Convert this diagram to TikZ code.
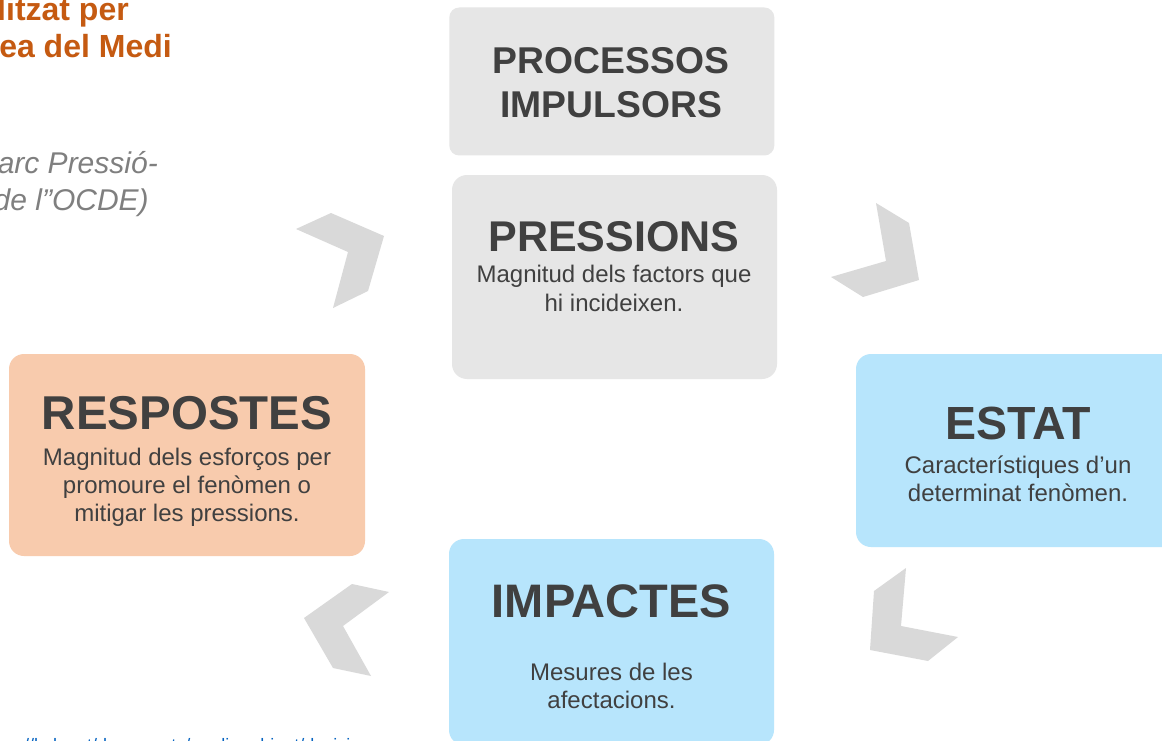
\documentclass[tikz,border=0pt]{standalone}
\usepackage{fontspec}
\setmainfont{Liberation Sans}
\definecolor{txt}{HTML}{404040}
\definecolor{boxgray}{HTML}{E6E6E6}
\definecolor{peach}{HTML}{F8CBAD}
\definecolor{lblue}{HTML}{B7E5FC}
\definecolor{chev}{HTML}{D9D9D9}
\definecolor{orng}{HTML}{C55A11}
\definecolor{itgray}{HTML}{7F7F7F}
\definecolor{linkblue}{HTML}{0563C1}
\tikzset{
  box/.style={rectangle, draw=none, rounded corners=15pt, inner sep=0pt},
  ttl/.style={text=txt, anchor=base, inner sep=0pt, font=\bfseries\fontsize{#1}{#1}\selectfont},
  sub/.style={text=txt, anchor=base, inner sep=0pt, font=\fontsize{24}{28}\selectfont},
  chevron/.style={fill=chev, draw=none},
}
\begin{document}
\begin{tikzpicture}[x=1pt,y=-1pt]
\useasboundingbox (0,0) rectangle (1162,741);
\fill[white] (0,0) rectangle (1162,741);

% header texts (cut at the left edge)
\node[anchor=base east, inner sep=0pt, text=orng, font=\bfseries\fontsize{32}{36}\selectfont] (h1) at (129,21) {utilitzat per};
\node[anchor=base east, inner sep=0pt, text=orng, font=\bfseries\fontsize{32}{36}\selectfont] (h2) at (172,57.5) {l’Àrea del Medi};
\node[anchor=base east, inner sep=0pt, text=itgray, font=\itshape\fontsize{30}{36}\selectfont] (i1) at (158,174) {(Marc Pressió-};
\node[anchor=base east, inner sep=0pt, text=itgray, font=\itshape\fontsize{30}{36}\selectfont] (i2) at (149,210) {Resposta de l”OCDE)};

% boxes
\node[box, fill=boxgray, rounded corners=10pt, minimum width=325pt, minimum height=148pt] (procbox) at (611.8,81.5) {};
\node[box, fill=boxgray, minimum width=325pt, minimum height=204pt] (presbox) at (614.5,277) {};
\node[box, fill=peach, minimum width=356pt, minimum height=202pt] (respbox) at (187,455) {};
\node[box, fill=lblue, minimum width=324pt, minimum height=193pt] (estbox) at (1018,450.5) {};
\node[box, fill=lblue, minimum width=325pt, minimum height=206pt] (impbox) at (611.5,642) {};

% chevrons
\fill[chevron] (296,229) -- (331,213) -- (384,236) -- (368,291) -- (333,308) -- (348,252) -- cycle;
\fill[chevron] (876,203) -- (909,223) -- (919,280) -- (863,297) -- (831,277) -- (886,261) -- cycle;
\fill[chevron] (906,568) -- (901,626) -- (958,637) -- (928,661) -- (870,650) -- (874,591) -- cycle;
\fill[chevron] (352,584) -- (389,592) -- (343,626) -- (371,676) -- (333,668) -- (304,618) -- cycle;

% texts
\node[ttl=37.3] (proc1) at (611,74) {PROCESSOS};
\node[ttl=37.3] (proc2) at (611,118) {IMPULSORS};

\node[ttl=43] (pres) at (614,251) {PRESSIONS};
\node[sub] (pres1) at (614,282.5) {Magnitud dels factors que};
\node[sub] (pres2) at (614,311) {hi incideixen.};

\node[ttl=47.5] (resp) at (187,429) {RESPOSTES};
\node[sub] (resp1) at (187,465) {Magnitud dels esforços per};
\node[sub] (resp2) at (187,493) {promoure el fenòmen o};
\node[sub] (resp3) at (187,521) {mitigar les pressions.};

\node[ttl=46.5] (est) at (1018,439) {ESTAT};
\node[sub] (est1) at (1018,473.5) {Característiques d’un};
\node[sub] (est2) at (1018,501.5) {determinat fenòmen.};

\node[ttl=47] (imp) at (611.5,617) {IMPACTES};
\node[sub] (imp1) at (611.5,680) {Mesures de les};
\node[sub] (imp2) at (611.5,708.5) {afectacions.};

% link at the bottom (cut off)
\node[anchor=base west, inner sep=0pt, text=linkblue, font=\fontsize{18}{20}\selectfont] (url) at (10,751) {s://bcb.cat/documents/medi-ambient/decisio};
\end{tikzpicture}
\end{document}
